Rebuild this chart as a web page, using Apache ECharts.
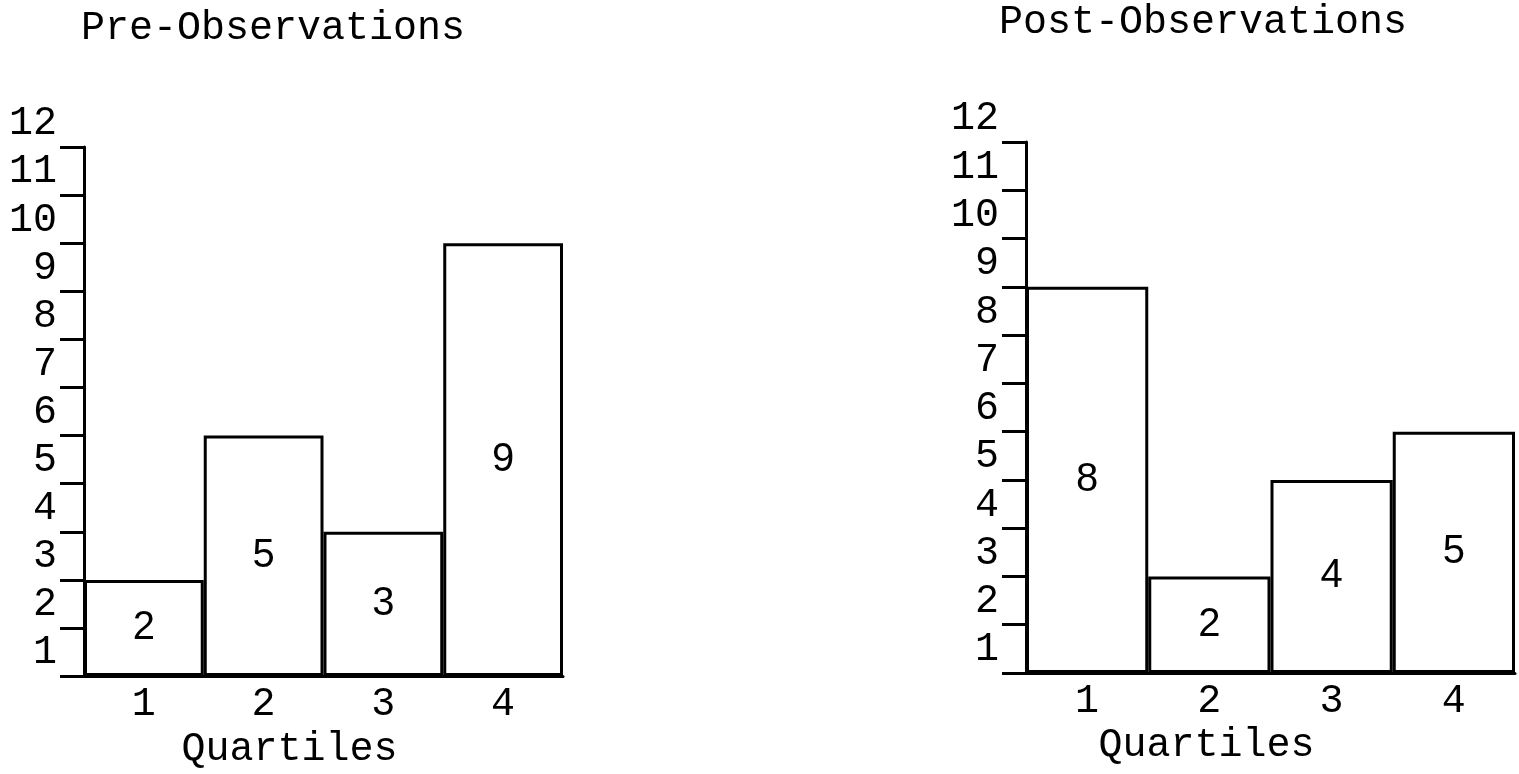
<!DOCTYPE html>
<html>
<head>
<meta charset="utf-8">
<script src="https://cdn.jsdelivr.net/npm/echarts@6/dist/echarts.min.js"></script>
<style>
html,body{margin:0;padding:0;background:#fff;}
#chart{width:1519px;height:774px;}
</style>
</head>
<body>
<div id="chart"></div>
<script>
// ---- data ----
var quartiles = ['1', '2', '3', '4'];
var preValues = [2, 5, 3, 9];
var postValues = [8, 2, 4, 5];
var yTickLabels = ['1', '2', '3', '4', '5', '6', '7', '8', '9', '10', '11', '12'];
var preTitle = 'Pre-Observations';
var postTitle = 'Post-Observations';
var xAxisName = 'Quartiles';

// ---- styling ----
var MONO = '"Liberation Mono", "DejaVu Sans Mono", monospace';
var SANS = '"Liberation Sans", "DejaVu Sans", sans-serif';
var INK = '#000';
var LW = 3;

function yAxisCfg(gridIndex, unitPx) {
  return {
    type: 'value', gridIndex: gridIndex, min: 0, max: 11, interval: 1,
    axisLine: { show: true, lineStyle: { color: INK, width: LW } },
    axisTick: { show: true, inside: false, length: 24, lineStyle: { color: INK, width: LW } },
    splitLine: { show: false },
    axisLabel: {
      show: true, showMinLabel: true, showMaxLabel: true, hideOverlap: false,
      formatter: function (v) { return yTickLabels[v]; },
      color: INK, fontFamily: MONO, fontSize: 40,
      verticalAlign: 'bottom', lineHeight: unitPx - 2, margin: 27
    }
  };
}
function xAxisCfg(gridIndex, namePad) {
  return {
    type: 'category', gridIndex: gridIndex, data: quartiles,
    axisLine: { show: true, lineStyle: { color: INK, width: LW } },
    axisTick: { show: false },
    axisLabel: { color: INK, fontFamily: MONO, fontSize: 40, margin: 8 },
    name: xAxisName, nameLocation: 'middle', nameGap: 50,
    nameTextStyle: { color: INK, fontFamily: MONO, fontSize: 40, padding: [0, namePad, 0, 0] }
  };
}
function barSeries(idx, values) {
  return {
    type: 'bar', xAxisIndex: idx, yAxisIndex: idx, data: values,
    barCategoryGap: 0, barWidth: '100%',
    itemStyle: { color: '#fff', borderColor: INK, borderWidth: LW },
    label: { show: true, position: 'inside', color: INK, fontFamily: SANS, fontSize: 40 },
    silent: true, animation: false
  };
}

var chart = echarts.init(document.getElementById('chart'), null, { renderer: 'canvas' });
chart.setOption({
  backgroundColor: '#fff',
  animation: false,
  title: [
    { text: preTitle, left: 273, top: 8, textAlign: 'center', padding: 0,
      textStyle: { color: INK, fontFamily: MONO, fontSize: 40, fontWeight: 'normal' } },
    { text: postTitle, left: 1203, top: 2, textAlign: 'center', padding: 0,
      textStyle: { color: INK, fontFamily: MONO, fontSize: 40, fontWeight: 'normal' } }
  ],
  grid: [
    { left: 84, right: 1519 - 563, top: 147, bottom: 774 - 680 },
    { left: 1026, right: 4, top: 142, bottom: 774 - 673 }
  ],
  xAxis: [xAxisCfg(0, 68), xAxisCfg(1, 128)],
  yAxis: [yAxisCfg(0, 48.45), yAxisCfg(1, 48.3)],
  series: [barSeries(0, preValues), barSeries(1, postValues)]
});
</script>
</body>
</html>
